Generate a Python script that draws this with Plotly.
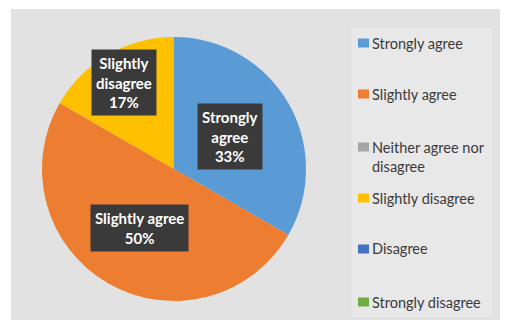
import math
import plotly.graph_objects as go

# ---- data ----
labels = ["Strongly agree", "Slightly agree", "Neither agree nor disagree",
          "Slightly disagree", "Disagree", "Strongly disagree"]
legend_text = ["Strongly agree", "Slightly agree", "Neither agree nor<br>disagree",
               "Slightly disagree", "Disagree", "Strongly disagree"]
values = [2, 3, 0, 1, 0, 0]
colors = ["#5B9BD5", "#ED7D31", "#A5A5A5", "#FFC000", "#4472C4", "#70AD47"]
label_text = ["Strongly<br>agree", "Slightly agree", "", "Slightly<br>disagree", "", ""]
label_radius = [0.49, 0.52, 0, 0.76, 0, 0]   # fraction of pie radius (style)

W, H = 510, 331
cx, cy, R = 174, 169, 132   # pixel geometry of the pie

def px(x):
    return x / W

def py(y):
    return 1 - y / H

fig = go.Figure()
fig.add_trace(go.Pie(
    labels=labels, values=values, sort=False, direction="clockwise", rotation=0,
    marker=dict(colors=colors, line=dict(width=0)),
    textinfo="none", hoverinfo="label+percent", showlegend=False,
    domain=dict(x=[px(cx - R), px(cx + R)], y=[py(cy + R), py(cy - R)]),
))

shapes = [
    dict(type="rect", xref="paper", yref="paper", x0=px(11), x1=px(500), y0=py(320), y1=py(9),
         fillcolor="#e2e2e2", line=dict(width=0), layer="below"),
    dict(type="rect", xref="paper", yref="paper", x0=px(350), x1=px(493), y0=py(318), y1=py(27),
         fillcolor="#e8e8e8", line=dict(color="#dcdcdc", width=1), layer="below"),
]
annotations = []

# data labels computed from slice angles
total = sum(values)
cum = 0
for v, t, f in zip(values, label_text, label_radius):
    mid = (cum + v / 2) / total * 2 * math.pi
    cum += v
    if v == 0 or not t:
        continue
    pct = round(100 * v / total)
    lx = cx + R * f * math.sin(mid)
    ly = cy - R * f * math.cos(mid)
    annotations.append(dict(
        x=px(lx), y=py(ly), xref="paper", yref="paper", showarrow=False,
        xanchor="center", yanchor="middle",
        text=f"<b>{t}<br>{pct}%</b>", align="center",
        font=dict(family="Lato", size=15, color="white"),
        bgcolor="#3a3a3a", borderpad=4,
    ))

# manual legend
item_y = [43, 94, 157, 198, 249, 302]
for txt, col, yy, lab in zip(legend_text, colors, item_y, labels):
    two = "<br>" in txt
    sq_y = yy - 10 if two else yy
    shapes.append(dict(type="rect", xref="paper", yref="paper",
                       x0=px(358), x1=px(369), y0=py(sq_y + 4.5), y1=py(sq_y - 4.5),
                       fillcolor=col, line=dict(width=0)))
    annotations.append(dict(
        x=px(370), y=py(yy), xref="paper", yref="paper", showarrow=False,
        xanchor="left", yanchor="middle", align="left", text=txt,
        font=dict(family="Lato", size=14.5, color="#3a3a3a"),
    ))

fig.update_layout(
    width=W, height=H, margin=dict(l=0, r=0, t=0, b=0),
    paper_bgcolor="white", plot_bgcolor="white",
    shapes=shapes, annotations=annotations,
)
fig.write_html("out.html", config={"displayModeBar": False},
               post_script="document.body.style.margin='0';")
